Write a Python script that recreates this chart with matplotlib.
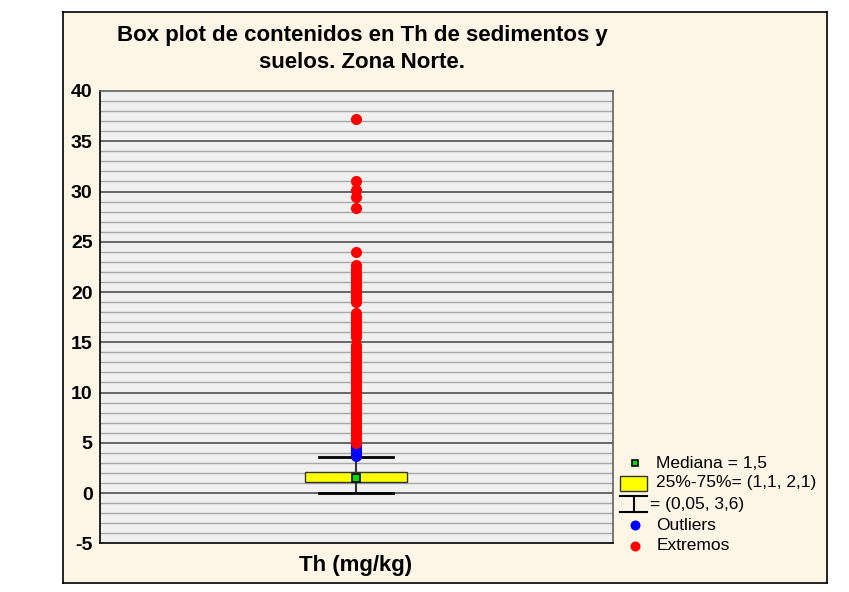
import matplotlib.pyplot as plt
from matplotlib.patches import Rectangle

plt.rcParams['font.family'] = ['Liberation Sans', 'DejaVu Sans']
plt.rcParams['axes.unicode_minus'] = False

# Datos (Th, mg/kg)
mediana = 1.5
q1, q3 = 1.1, 2.1
bigote_min, bigote_max = 0.05, 3.6
outliers = [3.7, 3.9, 4.1, 4.3, 4.5, 4.7, 4.9]
extremos = [5.0, 5.2, 5.5, 5.8, 6.0, 6.3, 6.6, 6.9, 7.2, 7.5, 7.8, 8.1, 8.4, 8.7,
            9.0, 9.3, 9.6, 9.9, 10.2, 10.5, 10.8, 11.1, 11.4, 11.7, 12.0, 12.3,
            12.6, 12.9, 13.2, 13.5, 13.8, 14.1, 14.4, 14.7, 15.5, 15.8, 16.1,
            16.4, 16.7, 17.0, 17.3, 17.6, 17.9, 19.0, 19.3, 19.6, 19.9, 20.2,
            20.5, 20.8, 21.1, 21.4, 21.7, 22.0, 22.3, 22.7, 24.0, 28.4, 29.5,
            30.2, 31.0, 37.2]
etiquetas_leyenda = ['Mediana = 1,5', '25%-75%= (1,1, 2,1)', '= (0,05, 3,6)',
                     'Outliers', 'Extremos']

W, H = 849, 592
fig = plt.figure(figsize=(W / 100, H / 100), dpi=100)
fig.patch.set_facecolor('white')

# marco beige (ejes de fondo)
fondo = fig.add_axes([63 / W, 1 - 583 / H, 764 / W, 571 / H])
fondo.set_facecolor('#fdf5e6')
fondo.set_xticks([])
fondo.set_yticks([])
for s in fondo.spines.values():
    s.set_linewidth(1.2)

ax = fig.add_axes([99.5 / W, 1 - 543.3 / H, 513 / W, 452.3 / H])
ax.set_facecolor('#f0f0f0')
ax.set_xlim(-1, 1)
ax.set_ylim(-5, 40)

# rejilla
for y in range(-4, 40):
    if y % 5 == 0:
        ax.axhline(y, color='#505050', lw=1.2, zorder=1)
    else:
        ax.axhline(y, color='#a8a8a8', lw=1.0, zorder=1)

x0 = 0.0
ax.plot([x0, x0], [q3, bigote_max], color='#333333', lw=1.5, zorder=2)
ax.plot([x0, x0], [bigote_min, q1], color='#333333', lw=1.5, zorder=2)
ax.plot([-0.144, 0.144], [bigote_max, bigote_max], color='black', lw=2, zorder=2)
ax.plot([-0.144, 0.144], [bigote_min, bigote_min], color='black', lw=2, zorder=2)
ax.add_patch(Rectangle((-0.2, q1), 0.4, q3 - q1, facecolor='yellow',
                       edgecolor='#333333', lw=1, zorder=3))
ax.plot([x0], [mediana], 's', color='#00dd00', mec='black', mew=1.2, ms=5.5, zorder=5)
ax.plot([x0] * len(outliers), outliers, 'o', color='blue', ms=8, mec='none', zorder=4)
ax.plot([x0] * len(extremos), extremos, 'o', color='red', ms=8, mec='none', zorder=4)

ax.set_xticks([])
ax.set_yticks(range(-5, 41, 5))
ax.tick_params(axis='y', length=0, pad=5)
for lab in ax.get_yticklabels():
    lab.set_fontsize(14)
    lab.set_fontweight('bold')
for s in ['left', 'bottom']:
    ax.spines[s].set_color('black')
    ax.spines[s].set_linewidth(1.2)
for s in ['top', 'right']:
    ax.spines[s].set_color('#606060')
    ax.spines[s].set_linewidth(1.2)

fig.text(362 / W, 1 - 35 / H, 'Box plot de contenidos en Th de sedimentos y',
         ha='center', va='center', fontsize=16, fontweight='bold')
fig.text(362 / W, 1 - 63 / H, 'suelos. Zona Norte.',
         ha='center', va='center', fontsize=16, fontweight='bold')
fig.text(356 / W, 1 - 566 / H, 'Th (mg/kg)', ha='center', va='center',
         fontsize=16, fontweight='bold')

# leyenda dibujada a mano
lg = fig.add_axes([0, 0, 1, 1], facecolor='none')
lg.set_xlim(0, W)
lg.set_ylim(H, 0)
lg.axis('off')
lg.plot([635], [463.3], 's', color='#00dd00', mec='black', mew=1.2, ms=5)
lg.add_patch(Rectangle((620, 476), 27, 15, facecolor='yellow', edgecolor='#333333', lw=1))
lg.plot([620, 647], [496, 496], color='black', lw=1.5)
lg.plot([620, 647], [512, 512], color='black', lw=1.5)
lg.plot([634, 634], [496, 512], color='black', lw=1.5)
lg.plot([635], [525], 'o', color='blue', ms=7.2, mec='none')
lg.plot([635], [546], 'o', color='red', ms=7.2, mec='none')
ys = [463, 483, 505, 525, 546]
xs = [656.5, 656.5, 650.5, 656.5, 656.5]
for x, y, t in zip(xs, ys, etiquetas_leyenda):
    lg.text(x, y, t, ha='left', va='center', fontsize=12.5)

fig.savefig('out.png', dpi=100)
